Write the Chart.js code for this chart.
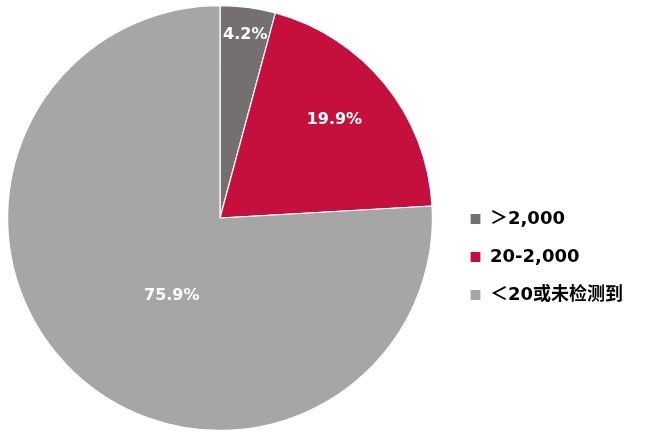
<!DOCTYPE html>
<html><head><meta charset="utf-8">
<script src="https://cdn.jsdelivr.net/npm/chart.js@4"></script>
<style>html,body{margin:0;padding:0;background:#fff}#wrap{width:649px;height:438px}</style>
</head><body><div id="wrap"><canvas id="c" width="649" height="438"></canvas></div>
<script>
const categories = ['＞2,000', '20-2,000', '＜20或未检测到'];
const shares = [4.2, 19.9, 75.9];
const pctLabels = ['4.2%', '19.9%', '75.9%'];
const sliceColors = ['#757070', '#C5103E', '#A6A6A6'];
// label placement (style): radius fraction and angular shift in degrees
const labelRadius = [0.87, 0.71, 0.43];
const labelAngleShift = [0.3, -1.6, -11.5];

const legendTweak = {
  id: 'legendTweak',
  beforeUpdate(chart) {
    const lg = chart.legend;
    if (lg && !lg._patched) {
      const orig = lg.fit;
      lg.fit = function () { orig.call(this); this.width = 216; };
      lg._patched = true;
    }
  },
  afterLayout(chart) {
    const lg = chart.legend;
    const dx = 450 - lg.left;
    lg.left += dx; lg.right += dx;
    lg.top += 39; lg.bottom += 39;
  }
};

const sliceLabels = {
  id: 'sliceLabels',
  afterDatasetsDraw(chart) {
    const ctx = chart.ctx;
    const meta = chart.getDatasetMeta(0);
    ctx.save();
    ctx.font = 'bold 16px "DejaVu Sans", "Noto Sans CJK SC", sans-serif';
    ctx.fillStyle = '#ffffff';
    ctx.textAlign = 'center';
    ctx.textBaseline = 'middle';
    meta.data.forEach((arc, i) => {
      const p = arc.getProps(['x', 'y', 'startAngle', 'endAngle', 'outerRadius'], true);
      const a = (p.startAngle + p.endAngle) / 2 + labelAngleShift[i] * Math.PI / 180;
      const r = p.outerRadius * labelRadius[i];
      ctx.fillText(pctLabels[i], p.x + Math.cos(a) * r, p.y + Math.sin(a) * r);
    });
    ctx.restore();
  }
};

new Chart(document.getElementById('c'), {
  type: 'pie',
  data: {
    labels: categories,
    datasets: [{
      data: shares,
      backgroundColor: sliceColors,
      borderColor: '#ffffff',
      borderWidth: 1.2
    }]
  },
  options: {
    responsive: false,
    animation: false,
    devicePixelRatio: 1,
    layout: { padding: { left: 7, top: 5, bottom: 7, right: 0 } },
    plugins: {
      tooltip: { enabled: false },
      legend: {
        position: 'right',
        align: 'center',
        labels: {
          boxWidth: 11,
          boxHeight: 11,
          padding: 20,
          color: '#000000',
          font: { family: '"DejaVu Sans", "Noto Sans CJK SC", sans-serif', size: 18, weight: 'bold' }
        }
      }
    }
  },
  plugins: [legendTweak, sliceLabels]
});
</script>
</body></html>
